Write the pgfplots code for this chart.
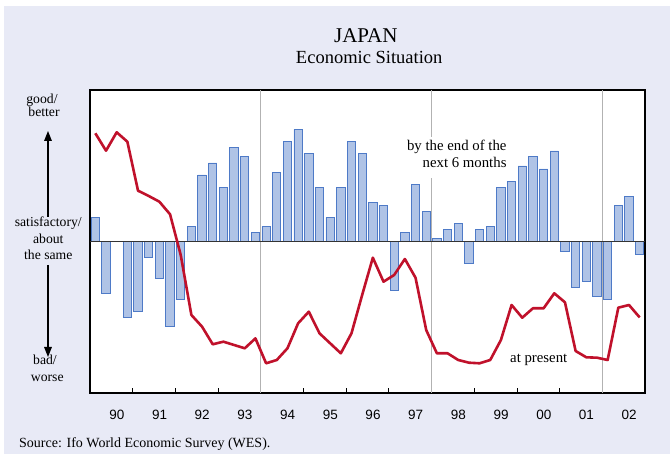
\documentclass[border=0pt]{standalone}
\usepackage{pgfplots}
\pgfplotsset{compat=1.18}
\usepackage{fontspec}
\setmainfont{Liberation Serif}
\newfontfamily\arial{Liberation Sans}
\usetikzlibrary{arrows.meta}
\definecolor{bg}{HTML}{E8EAF6}
\definecolor{barfill}{HTML}{AFC3E6}
\definecolor{baredge}{HTML}{4E7AC7}
\definecolor{redline}{HTML}{C0112B}
\begin{document}
\begin{tikzpicture}[x=1pt,y=1pt]
\fill[white] (0,0) rectangle (670,454);
\fill[bg] (4,0) rectangle (670,448);
\begin{axis}[
  at={(90pt,61pt)}, anchor=south west,
  width=555pt, height=303pt, scale only axis,
  xmin=0, xmax=52, ymin=-151.3, ymax=151.7,
  axis background/.style={fill=white},
  axis line style={black, line width=1.2pt},
  ytick=\empty,
  xtick={2,6,...,50},
  xticklabels={90,91,92,93,94,95,96,97,98,99,00,01,02},
  xtick pos=bottom,
  major tick length=0pt,
  minor xtick={4,8,...,48},
  minor tick length=4.5pt,
  tick align=inside,
  tick style={black, line width=0.8pt},
  extra x ticks={16,32,48},
  extra x tick labels={},
  extra x tick style={grid=major, major grid style={color=black!30, line width=1.1pt}},
  /pgf/number format/assume math mode=true,
  xticklabel style={font=\arial\fontsize{13.5}{15}\selectfont, anchor=base, yshift=-26.3pt, xshift=5.5pt},
  clip=false,
]
\addplot[ybar, bar width=8.3pt, fill=barfill, draw=baredge, line width=0.9pt] coordinates {
(0.5,24.0) (1.5,-51.6) (3.5,-76) (4.5,-70) (5.5,-15.7) (6.5,-36.7) (7.5,-85) (8.5,-57.6)
(9.5,15) (10.5,66.7) (11.5,78.7) (12.5,54.4) (13.5,94) (14.5,85) (15.5,9)
(16.5,15) (17.5,69.4) (18.5,100) (19.5,112.4) (20.5,88) (21.5,54.4) (22.5,24) (23.5,54.4)
(24.5,100) (25.5,88) (26.5,39.4) (27.5,36) (28.5,-49) (29.5,9) (30.5,57.4) (31.5,30)
(32.5,3) (33.5,12) (34.5,18.4) (35.5,-21.7) (36.5,12) (37.5,15) (38.5,54.4) (39.5,60.4)
(40.5,75.7) (41.5,85) (42.5,72.7) (43.5,90.7) (44.5,-9.3) (45.5,-45.6) (46.5,-39.6) (47.5,-55)
(48.5,-58) (49.5,36.3) (50.5,45.3) (51.5,-12.3)
};
\addplot[black!80, line width=1.3pt, no marks] coordinates {(0,0) (52,0)};
\addplot[redline, line width=2.6pt, no marks, line join=round] coordinates {
(0.5,108.4) (1.5,91) (2.5,109.4) (3.5,100) (4.5,51) (5.5,45.7) (6.5,40) (7.5,27.4)
(8.5,-13.3) (9.5,-73.3) (10.5,-85) (11.5,-102.6) (12.5,-100) (13.5,-103.3) (14.5,-106.6) (15.5,-96.7)
(16.5,-121.6) (17.5,-118.3) (18.5,-106.6) (19.5,-81.6) (20.5,-70) (21.5,-91.6) (22.5,-101.6) (23.5,-111.6)
(24.5,-91.6) (25.5,-53.3) (26.5,-16) (27.5,-40) (28.5,-33.3) (29.5,-17.3) (30.5,-36) (31.5,-88.3)
(32.5,-111.6) (33.5,-111.6) (34.5,-118.3) (35.5,-121) (36.5,-121.6) (37.5,-118.3) (38.5,-98.3) (39.5,-63.3)
(40.5,-76) (41.5,-66.6) (42.5,-66.6) (43.5,-51.6) (44.5,-60.6) (45.5,-109.3) (46.5,-115.6) (47.5,-116)
(48.5,-118.3) (49.5,-66) (50.5,-63.3) (51.5,-75.7)
};
\end{axis}
% annotations
\fill[white] (405,276) rectangle (510,317);
\node[anchor=base east, inner sep=0pt, font=\fontsize{14.8}{16}\selectfont] at (506.7,303.3) {by the end of the};
\node[anchor=base east, inner sep=0pt, font=\fontsize{14.8}{16}\selectfont] at (506.7,286.7) {next 6 months};
\node[anchor=base west, inner sep=0pt, font=\fontsize{14.8}{16}\selectfont] at (510,91) {at present};
% title
\node[anchor=base, inner sep=0pt, font=\fontsize{21}{24}\selectfont] at (365.8,411.7) {JAPAN};
\node[anchor=base, inner sep=0pt, font=\fontsize{18.5}{22}\selectfont] at (369.2,390.5) {Economic Situation};
% left labels
\begin{scope}[every node/.style={anchor=base, inner sep=0pt, font=\fontsize{13.7}{15}\selectfont}]
\node at (42,350.7) {good/};
\node at (44,337.3) {better};
\node at (48.3,227.3) {satisfactory/};
\node at (48.3,210.7) {about};
\node at (48.3,194) {the same};
\node at (45,89) {bad/};
\node at (47.3,72.3) {worse};
\end{scope}
\draw[line width=1.4pt, -{Triangle[length=10pt,width=7.5pt]}] (48,237) -- (48,323);
\draw[line width=1.4pt, -{Triangle[length=10pt,width=7.5pt]}] (48,189) -- (48,97);
% source
\node[anchor=base west, inner sep=0pt, font=\fontsize{14}{16}\selectfont] at (19,6.3) {Source: Ifo World Economic Survey (WES).};
\end{tikzpicture}
\end{document}
